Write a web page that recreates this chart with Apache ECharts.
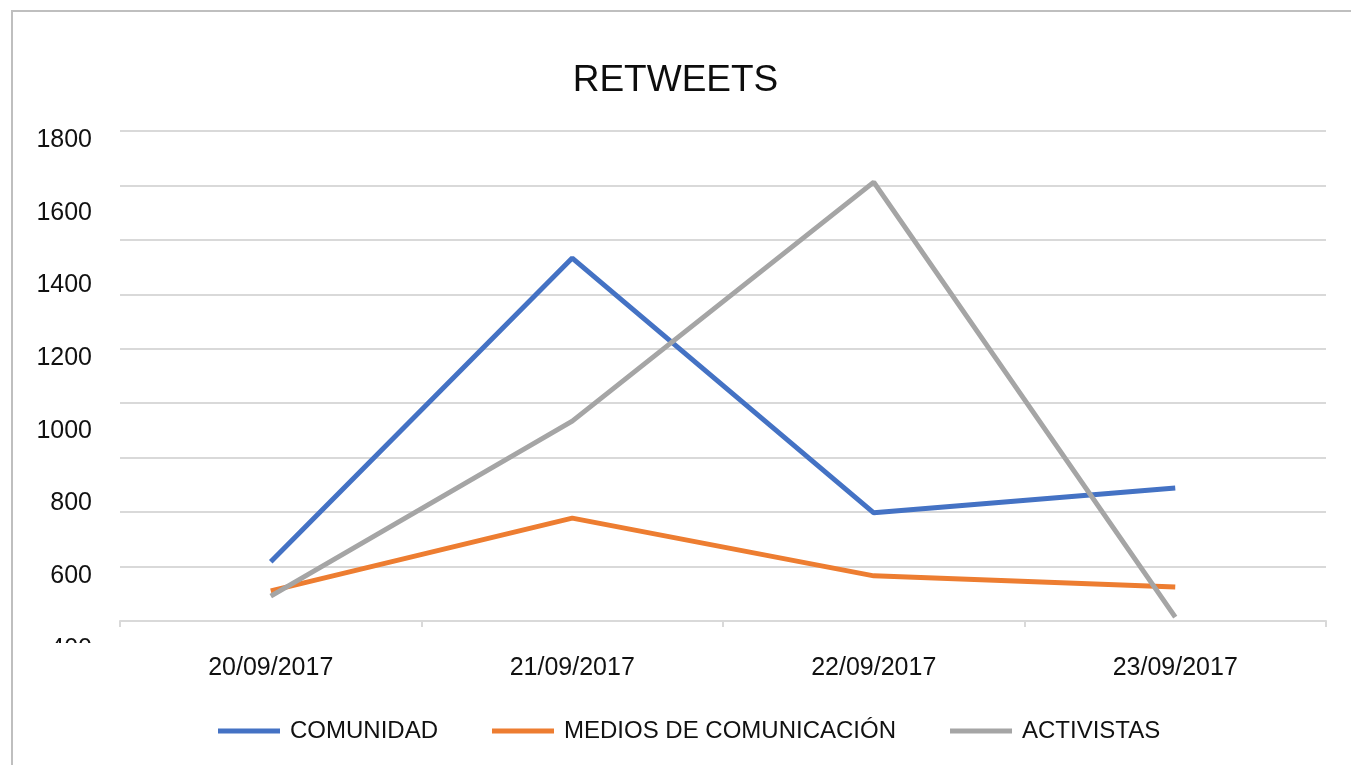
<!DOCTYPE html>
<html>
<head>
<meta charset="utf-8">
<script src="https://cdn.jsdelivr.net/npm/echarts@6/dist/echarts.min.js"></script>
<style>
  html, body { margin: 0; padding: 0; background: #fff; }
  #chart { width: 1351px; height: 765px; }
</style>
</head>
<body>
<div id="chart"></div>
<script>
// categories and values
const fechas = ["20/09/2017", "21/09/2017", "22/09/2017", "23/09/2017"];
const comunidad = [569, 1437, 709, 780];
const medios = [486, 694, 529, 497];
const activistas = [471, 971, 1654, 411];
const seriesNames = ["COMUNIDAD", "MEDIOS DE COMUNICACIÓN", "ACTIVISTAS"];
const yTicks = [400, 600, 800, 1000, 1200, 1400, 1600, 1800];

const colores = ["#4472C4", "#ED7D31", "#A5A5A5"];
const fuente = "Liberation Sans, Arial, sans-serif";

const chart = echarts.init(document.getElementById("chart"));

const lineSerie = (name, data, i) => ({
  name: name,
  type: "line",
  xAxisIndex: 0,
  yAxisIndex: 0,
  data: data,
  symbol: "none",
  lineStyle: { width: 5, color: colores[i], cap: "butt" },
  itemStyle: { color: colores[i] },
  z: 3 + i
});

chart.setOption({
  animation: false,
  title: {
    text: "RETWEETS",
    left: "center",
    top: 57,
    textStyle: { fontFamily: fuente, fontSize: 37, fontWeight: "normal", color: "#0d0d0d" }
  },
  legend: {
    left: 213,
    top: 714,
    icon: "rect",
    itemWidth: 62,
    itemHeight: 5,
    itemGap: 54,
    textStyle: { fontFamily: fuente, fontSize: 24, color: "#111", padding: [0, 0, 0, 5] },
    data: seriesNames
  },
  grid: [
    // plot area
    { left: 120, right: 25, top: 131, bottom: 144 },
    // area used only for the y labels
    { left: 120, right: 25, top: 140, bottom: 116 }
  ],
  xAxis: [
    {
      type: "category",
      gridIndex: 0,
      data: fechas,
      boundaryGap: true,
      axisLine: { lineStyle: { color: "#d9d9d9", width: 2 } },
      axisTick: { show: true, length: 6, lineStyle: { color: "#d9d9d9", width: 2 } },
      axisLabel: { fontFamily: fuente, fontSize: 25, color: "#111", margin: 35 }
    },
    {
      type: "category",
      gridIndex: 1,
      data: fechas,
      show: false
    }
  ],
  yAxis: [
    {
      // data axis
      type: "value",
      gridIndex: 0,
      min: 400,
      max: 1800,
      axisLine: { show: false },
      axisTick: { show: false },
      axisLabel: { show: false },
      splitLine: { show: false }
    },
    {
      // horizontal gridlines
      type: "value",
      gridIndex: 0,
      min: 0,
      max: 9,
      interval: 1,
      position: "left",
      axisLine: { show: false },
      axisTick: { show: false },
      axisLabel: { show: false },
      splitLine: { show: true, lineStyle: { color: "#d9d9d9", width: 2 } }
    },
    {
      // tick labels
      type: "value",
      gridIndex: 1,
      min: yTicks[0],
      max: yTicks[yTicks.length - 1],
      interval: 200,
      axisLine: { show: false },
      axisTick: { show: false },
      splitLine: { show: false },
      axisLabel: {
        fontFamily: fuente, fontSize: 25, color: "#111", margin: 28,
        formatter: v => String(v)
      }
    }
  ],
  graphic: [
    {
      type: "rect",
      shape: { x: 12, y: 11, width: 1400, height: 800 },
      style: { fill: "none", stroke: "#bfbfbf", lineWidth: 2 },
      z: 0
    },
    {
      // bottom label is cut off in the original
      type: "rect",
      shape: { x: 20, y: 643, width: 95, height: 25 },
      style: { fill: "#fff" },
      z: 100
    }
  ],
  series: [
    lineSerie(seriesNames[0], comunidad, 0),
    lineSerie(seriesNames[1], medios, 1),
    lineSerie(seriesNames[2], activistas, 2)
  ]
});
</script>
</body>
</html>
